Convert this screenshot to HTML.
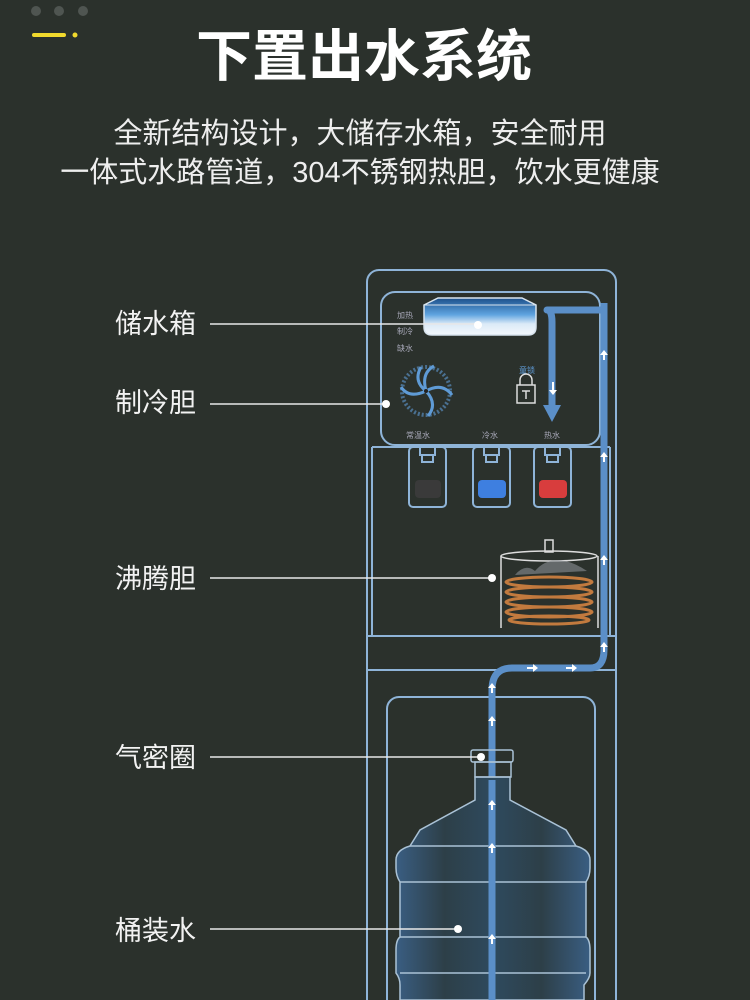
<!DOCTYPE html>
<html><head><meta charset="utf-8"><style>
html,body{margin:0;padding:0;background:#2b312c;}
svg{display:block}
text{font-family:"Liberation Sans","Noto Sans CJK SC",sans-serif;}
</style></head><body>
<svg width="750" height="1000" viewBox="0 0 750 1000" xmlns="http://www.w3.org/2000/svg">
<defs>
<linearGradient id="tank" x1="0" y1="0" x2="0" y2="1">
<stop offset="0" stop-color="#1c4f8a"/><stop offset="0.45" stop-color="#5fa4e0"/><stop offset="0.7" stop-color="#dbeaf7"/><stop offset="1" stop-color="#f4f8fc"/>
</linearGradient>
<linearGradient id="btl" x1="0" y1="0" x2="1" y2="0">
<stop offset="0" stop-color="#3a5e82"/><stop offset="0.25" stop-color="#2d3f48"/><stop offset="0.5" stop-color="#2e4a5e"/><stop offset="0.75" stop-color="#2d3f48"/><stop offset="1" stop-color="#3a5e82"/>
</linearGradient>
</defs>
<rect width="750" height="1000" fill="#2b312c"/>
<circle cx="36" cy="11" r="5" fill="#4f5551"/><circle cx="59" cy="11" r="5" fill="#4f5551"/><circle cx="83" cy="11" r="5" fill="#4f5551"/>
<rect x="32" y="33" width="34" height="4" rx="2" fill="#f1d92d"/><circle cx="75" cy="35" r="2.5" fill="#f1d92d"/>
<text x="364" y="76" text-anchor="middle" font-size="56" font-weight="bold" fill="#fff">下置出水系统</text>
<text x="360" y="143" text-anchor="middle" font-size="29" fill="#eee">全新结构设计，大储存水箱，安全耐用</text>
<text x="360" y="182" text-anchor="middle" font-size="29" fill="#eee">一体式水路管道，304不锈钢热胆，饮水更健康</text>

<g fill="none" stroke="#8fb4d8" stroke-width="2">
<rect x="367" y="270" width="249" height="760" rx="12"/>
<rect x="381" y="292" width="219" height="153" rx="14"/>
<path d="M372 447 V636 M610 447 V636 M372 447 H610"/>
<path d="M367 636 H616 M367 670 H616"/>
<rect x="387" y="697" width="208" height="330" rx="12"/>
<rect x="409" y="447" width="37" height="60" rx="4"/>
<rect x="473" y="447" width="37" height="60" rx="4"/>
<rect x="534" y="447" width="37" height="60" rx="4"/>
<path d="M420 447 V455 H435 V447 M422 455 V462 H433 V455"/>
<path d="M484 447 V455 H499 V447 M486 455 V462 H497 V455"/>
<path d="M545 447 V455 H560 V447 M547 455 V462 H558 V455"/>
</g>
<rect x="415" y="480" width="26" height="18" rx="4" fill="#3a3a3a"/>
<rect x="478" y="480" width="28" height="18" rx="4" fill="#3e7fe0"/>
<rect x="539" y="480" width="28" height="18" rx="4" fill="#d83d3d"/>

<path d="M424 305 L438 298 H522 L536 305 V327 Q536 335 528 335 H432 Q424 335 424 327 Z" fill="url(#tank)" stroke="#d8e4ee" stroke-width="1.5"/>
<path d="M424 305 H536" stroke="#d8e4ee" stroke-width="1"/>
<text x="397" y="318" font-size="8" fill="#aab">加热</text>
<text x="397" y="334" font-size="8" fill="#aab">制冷</text>
<text x="397" y="351" font-size="8" fill="#aab">缺水</text>
<g stroke="#5f9bd6" stroke-width="3" fill="none">
<circle cx="426" cy="391" r="24" stroke-dasharray="2 2" stroke-width="4" opacity="0.6"/>
<path d="M426 391 q-5 -18 8 -25 M426 391 q16 -9 26 4 M426 391 q12 13 2 25 M426 391 q-17 8 -25 -4 M426 391 q-13 -10 -5 -24"/>
</g>
<circle cx="426" cy="391" r="2" fill="#222"/>
<text x="418" y="438" font-size="8" text-anchor="middle" fill="#aab">常温水</text>
<text x="490" y="438" font-size="8" text-anchor="middle" fill="#aab">冷水</text>
<text x="552" y="438" font-size="8" text-anchor="middle" fill="#aab">热水</text>
<text x="527" y="373" font-size="8" text-anchor="middle" fill="#5f9bd6">童锁</text>
<path d="M520 385 V380 a6 6 0 0 1 12 0 V385" fill="none" stroke="#ddd" stroke-width="1.5"/>
<rect x="517" y="385" width="18" height="18" fill="none" stroke="#ddd" stroke-width="1.5"/>
<path d="M522 391 H530 M526 391 V399" stroke="#ddd" stroke-width="1.5"/>

<g fill="none" stroke="#5b8fc8" stroke-width="7" stroke-linejoin="round">
<path d="M492 1000 V690 Q492 668 512 668 H590 Q604 668 604 650 V310 H547 Q552 310 552 322 V410"/>
</g>
<path d="M543 405 H561 L552 422 Z" fill="#5b8fc8"/>
<path d="M604 303 V315" stroke="#5b8fc8" stroke-width="7"/>
<g fill="#fff">
<path d="M604 350 l-4 5 h3 v5 h2 v-5 h3 z"/>
<path d="M604 452 l-4 5 h3 v5 h2 v-5 h3 z"/>
<path d="M604 555 l-4 5 h3 v5 h2 v-5 h3 z"/>
<path d="M604 642 l-4 5 h3 v5 h2 v-5 h3 z"/>
<path d="M492 683 l-4 5 h3 v5 h2 v-5 h3 z"/>
<path d="M492 716 l-4 5 h3 v5 h2 v-5 h3 z"/>
<path d="M538 668 l-5 -4 v3 h-6 v2 h6 v3 z"/>
<path d="M577 668 l-5 -4 v3 h-6 v2 h6 v3 z"/>
<path d="M552 382 v8 h-3 l4 5 l4 -5 h-3 v-8 z"/>
</g>

<path d="M501 556 V628 M598 556 V628" stroke="#ddd" stroke-width="1.5"/>
<ellipse cx="549" cy="556" rx="48" ry="5" fill="none" stroke="#ddd" stroke-width="1.5"/>
<rect x="545" y="540" width="8" height="12" fill="none" stroke="#ddd" stroke-width="1.5"/>
<g fill="none" stroke="#c27a3e" stroke-width="3">
<ellipse cx="549" cy="582" rx="43" ry="5"/><ellipse cx="549" cy="592" rx="43" ry="5"/>
<ellipse cx="549" cy="602" rx="43" ry="5"/><ellipse cx="549" cy="612" rx="43" ry="5"/>
<ellipse cx="549" cy="620" rx="40" ry="4"/>
</g>
<path d="M515 575 q10 -12 20 -4 q12 -14 30 -10 q10 2 22 10" fill="#8a8f94" opacity="0.6"/>

<path d="M475 777 V800 L420 830 L410 846 Q396 850 396 860 V868 Q396 876 400 882 V937 Q396 940 396 950 V973 Q400 978 400 985 V1000 H584 V985 Q590 978 590 973 V950 Q590 940 586 937 V882 Q590 876 590 868 V860 Q590 850 576 846 L566 830 L510 800 V777 Z" fill="url(#btl)" stroke="#aac2d6" stroke-width="1.5"/>
<g fill="none" stroke="#aac2d6" stroke-width="1.5">
<path d="M410 846 H576 M400 882 H586 M400 937 H586 M400 973 H586"/>
<rect x="471" y="750" width="42" height="12" rx="2"/>
<rect x="475" y="762" width="36" height="15"/>
</g>
<path d="M492 1000 V780" stroke="#5b8fc8" stroke-width="7"/>
<g fill="#fff">
<path d="M492 800 l-4 5 h3 v5 h2 v-5 h3 z"/>
<path d="M492 843 l-4 5 h3 v5 h2 v-5 h3 z"/>
<path d="M492 934 l-4 5 h3 v5 h2 v-5 h3 z"/>
</g>

<g font-size="27" fill="#f2f2f2">
<text x="115" y="333">储水箱</text>
<text x="115" y="412">制冷胆</text>
<text x="115" y="588">沸腾胆</text>
<text x="115" y="767">气密圈</text>
<text x="115" y="940">桶装水</text>
</g>
<g stroke="#e8e8e8" stroke-width="1.5">
<path d="M210 324 H478"/><path d="M210 404 H386"/><path d="M210 578 H492"/><path d="M210 757 H481"/><path d="M210 929 H458"/>
</g>
<g fill="#fff">
<circle cx="478" cy="325" r="4"/><circle cx="386" cy="404" r="4"/><circle cx="492" cy="578" r="4"/><circle cx="481" cy="757" r="4"/><circle cx="458" cy="929" r="4"/>
</g>
</svg>
</body></html>
